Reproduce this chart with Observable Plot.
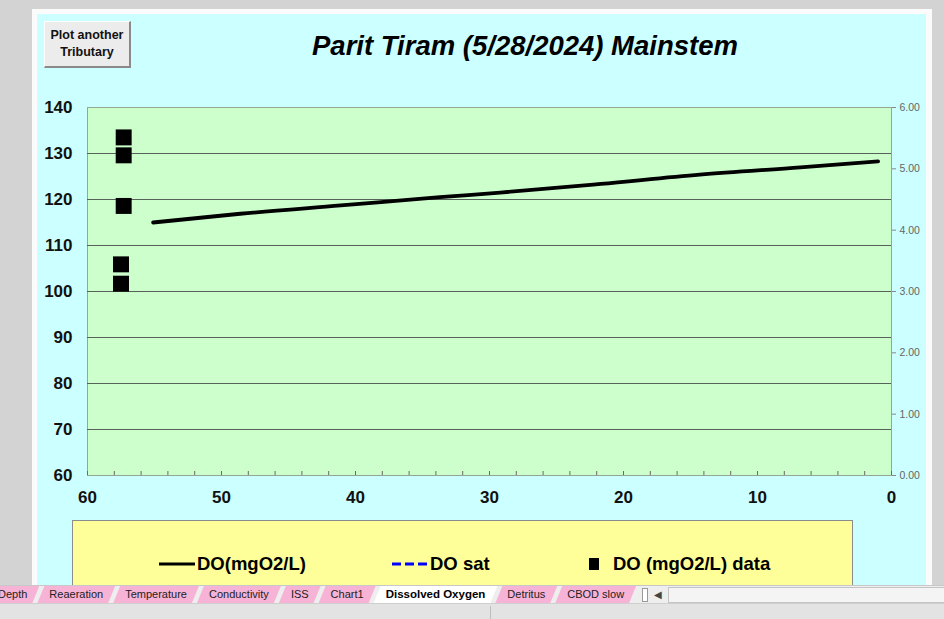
<!DOCTYPE html>
<html>
<head>
<meta charset="utf-8">
<script src="https://cdn.jsdelivr.net/npm/d3@7"></script>
<script src="https://cdn.jsdelivr.net/npm/@observablehq/plot@0.6"></script>
<style>
  html, body { margin:0; padding:0; }
  body { width:944px; height:619px; overflow:hidden; font-family:"Liberation Sans", Arial, sans-serif; }
  #page { position:relative; width:944px; height:619px; background:#d3d3d3; overflow:hidden; }
  #white { position:absolute; left:32px; top:9px; width:900px; height:600px; background:#fbfbfb; }
  #cyan { position:absolute; left:37px; top:14px; width:889px; height:590px; background:#ccffff; }
  #chart { position:absolute; left:0; top:0; }
  #title { position:absolute; left:0; width:1050px; top:30px; text-align:center; font-weight:bold; font-style:italic; font-size:27.5px; color:#000; white-space:nowrap; }
  #btn { position:absolute; left:44px; top:21px; width:84px; height:44px; background:#ececec; border-top:1px solid #fff; border-left:1px solid #fff; border-right:2px solid #8a8a8a; border-bottom:2px solid #8a8a8a; font-size:12.5px; font-weight:bold; text-align:center; line-height:17px; display:flex; align-items:center; justify-content:center; color:#111; }
  #legend { position:absolute; left:72px; top:520px; width:779px; height:80px; background:#ffff99; border:1px solid #8c8c8c; }
  .litem { position:absolute; top:32px; display:flex; align-items:center; font-size:18.5px; font-weight:bold; color:#000; white-space:nowrap; }
  #tabbar { position:absolute; left:0; top:585px; width:944px; height:18px; background:#eeeeee; border-top:1px solid #c8c8c8; }
  #tabs { position:absolute; left:-14px; top:0; display:flex; height:17px; }
  .tab { height:17px; line-height:16px; font-size:11px; color:#222; background:#f7b3d6; padding:0 12px 0 12px; margin-right:-2px; clip-path:polygon(7px 0,100% 0,calc(100% - 7px) 100%,0 100%); white-space:nowrap; }
  .tab.active { background:#ffffff; font-weight:bold; color:#000; font-size:11.5px; }
  #status { position:absolute; left:0; top:603px; width:944px; height:16px; background:#e3e3e3; border-top:1px solid #cfcfcf; }
</style>
</head>
<body>
<div id="page">
  <div id="white"></div>
  <div id="cyan"></div>
  <div id="chart"></div>
  <div id="title"></div>
  <div id="btn"></div>
  <div id="legend"></div>
  <div id="tabbar"><div id="tabs"></div></div>
  <div id="status"></div>
</div>
<script>
// ---- data ----
const titleText = "Parit Tiram (5/28/2024) Mainstem";
const buttonLines = ["Plot another", "Tributary"];
const xTicks = [60, 50, 40, 30, 20, 10, 0];
const xMinorTicks = [60,58,56,54,52,50,48,46,44,42,40,38,36,34,32,30,28,26,24,22,20,18,16,14,12,10,8,6,4,2,0];
const yTicks = [60, 70, 80, 90, 100, 110, 120, 130, 140];
const yGrid = [70, 80, 90, 100, 110, 120, 130];
const rightTicks = [0, 1, 2, 3, 4, 5, 6];
const xDomain = [60, 0];
const yDomain = [60, 140];
const rightDomain = [0, 6];

// DO(mgO2/L) model line
const doLineX = [55.1, 48.6, 41.1, 33.7, 29.2, 21.7, 14.3, 6.8, 1.0];
const doLineY = [115.0, 116.9, 118.7, 120.5, 121.5, 123.4, 125.4, 127.0, 128.3];
// DO (mgO2/L) data
const doDataX = [57.3, 57.3, 57.3, 57.5, 57.5];
const doDataY = [133.5, 129.6, 118.6, 105.9, 101.7];

const seriesNames = ["DO(mgO2/L)", "DO sat", "DO (mgO2/L) data"];
const tabNames = ["Depth", "Reaeration", "Temperature", "Conductivity", "ISS", "Chart1", "Dissolved Oxygen", "Detritus", "CBOD slow"];
const activeTab = "Dissolved Oxygen";

// ---- helpers ----
const rightToLeft = v => yDomain[0] + (v - rightDomain[0]) * (yDomain[1] - yDomain[0]) / (rightDomain[1] - rightDomain[0]);
const leftToRight = v => rightDomain[0] + (v - yDomain[0]) * (rightDomain[1] - rightDomain[0]) / (yDomain[1] - yDomain[0]);

const lineData = doLineX.map((x, i) => ({x, y: doLineY[i]}));
const pointData = doDataX.map((x, i) => ({x, y: doDataY[i]}));

const chart = Plot.plot({
  width: 944,
  height: 520,
  marginLeft: 87,
  marginRight: 53,
  marginTop: 107,
  marginBottom: 45,
  style: {background: "transparent", fontFamily: "'Liberation Sans', Arial, sans-serif", overflow: "visible"},
  x: {domain: xDomain, label: null},
  y: {domain: yDomain, label: null},
  marks: [
    Plot.frame({fill: "#ccffcc", stroke: "#93a893"}),
    Plot.ruleY(yGrid, {stroke: "#56625a", strokeWidth: 1.2}),
    Plot.axisX({ticks: xMinorTicks, tickSize: -4, tickFormat: () => "", stroke: "#6a6a6a", label: null}),
    Plot.axisX({ticks: xTicks, tickSize: 0, tickPadding: 15, tickFormat: d => String(d), fontSize: 17, fontWeight: "bold", fill: "#111", label: null}),
    Plot.axisY({anchor: "left", ticks: yTicks, tickSize: 0, tickPadding: 15, tickFormat: d => String(d), fontSize: 17, fontWeight: "bold", fill: "#111", label: null}),
    Plot.axisY({anchor: "right", ticks: rightTicks.map(rightToLeft), tickFormat: d => leftToRight(d).toFixed(2), tickSize: 4, tickPadding: 4, fontSize: 10.5, fill: "#666", stroke: "#888", label: null}),
    Plot.line(lineData, {x: "x", y: "y", stroke: "#000", strokeWidth: 3.8, curve: "monotone-x"}),
    Plot.dot(pointData, {x: "x", y: "y", symbol: "square", r: 9, fill: "#000", stroke: "none"})
  ]
});
document.getElementById("chart").appendChild(chart);

document.getElementById("title").textContent = titleText;
document.getElementById("btn").innerHTML = buttonLines.join("<br>");

// legend
const legend = document.getElementById("legend");
const swatches = [
  `<svg width="36" height="10"><line x1="0" y1="5" x2="36" y2="5" stroke="#000" stroke-width="3"/></svg>`,
  `<svg width="35" height="10"><line x1="0" y1="5" x2="35" y2="5" stroke="#0000ff" stroke-width="3" stroke-dasharray="9,4"/></svg>`,
  `<svg width="10" height="12"><rect x="0" y="0" width="10" height="12" fill="#000"/></svg>`
];
const legendLeft = [86, 319, 516];
const swatchGap = [2, 3, 14];
seriesNames.forEach((name, i) => {
  const d = document.createElement("div");
  d.className = "litem";
  d.style.left = legendLeft[i] + "px";
  d.innerHTML = swatches[i] + `<span style="margin-left:${swatchGap[i]}px">${name}</span>`;
  legend.appendChild(d);
});

// sheet tabs
const tabs = document.getElementById("tabs");
tabNames.forEach(n => {
  const s = document.createElement("div");
  s.className = "tab" + (n === activeTab ? " active" : "");
  s.textContent = n;
  tabs.appendChild(s);
});
const tail = document.createElement("div");
tail.style.cssText = "display:flex;align-items:center;height:17px;margin-left:8px;font-size:10px;color:#444";
tail.innerHTML = `<div style="width:4px;height:12px;border:1px solid #999;background:#fff"></div><div style="margin-left:6px">&#9664;</div><div style="margin-left:6px;width:290px;height:14px;border:1px solid #c4c4c4;background:#f4f4f4"></div>`;
tabs.appendChild(tail);

// status divider
const status = document.getElementById("status");
const div = document.createElement("div");
div.style.cssText = "position:absolute;left:490px;top:2px;width:1px;height:14px;background:#bdbdbd";
status.appendChild(div);
</script>
</body>
</html>
